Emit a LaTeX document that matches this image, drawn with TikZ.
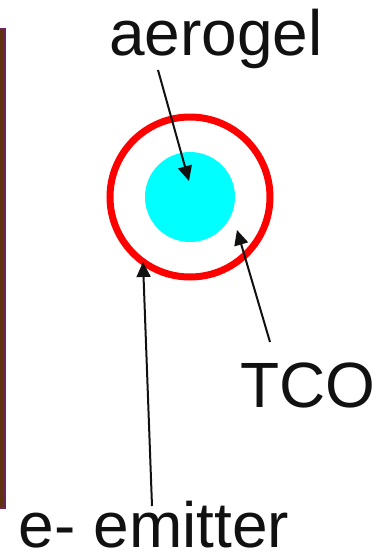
\documentclass[tikz,border=0pt]{standalone}
\usepackage{fontspec}
\setmainfont{Liberation Sans}
\usetikzlibrary{arrows.meta}
\definecolor{ink}{HTML}{111111}
\definecolor{ringred}{HTML}{FF0000}
\definecolor{gelcyan}{HTML}{00FFFF}
\definecolor{barbrown}{HTML}{5E3210}
\definecolor{barrim}{HTML}{6E2458}
\tikzset{
  biglabel/.style={font=\fontsize{64}{70}\selectfont, text=ink, inner sep=0pt, anchor=base},
  pointer/.style={-{Triangle[length=15pt,width=14pt]}, line width=2pt, draw=ink}
}
\begin{document}
\begin{tikzpicture}[x=1pt,y=-1pt]
\useasboundingbox (0,0) rectangle (389,555);
% side bar
\draw[fill=barbrown, draw=barrim, line width=1.2pt] (-2,29) rectangle (5,508);
% tube cross section
\node[circle, fill=gelcyan, minimum size=90pt, inner sep=0pt] (gel) at (190,197) {};
\node[circle, draw=ringred, line width=7pt, minimum size=160pt, inner sep=0pt] (ring) at (190,197) {};
% labels
\node[biglabel] (aerogel) at (216,55) {aerogel};
\node[biglabel] (tco) at (308,407) {TCO};
\node[biglabel] (emitter) at (154,547) {e- emitter};
% arrow ends
\coordinate (aerotail) at (158,70);
\coordinate (aerotip) at (189,181);
\coordinate (tcotail) at (270,342);
\coordinate (tcotip) at (237,230);
\coordinate (emtail) at (152,506);
\coordinate (emtip) at (143,262);
\draw[pointer] (aerotail) -- (aerotip);
\draw[pointer] (tcotail) -- (tcotip);
\draw[pointer] (emtail) -- (emtip);
\end{tikzpicture}
\end{document}
